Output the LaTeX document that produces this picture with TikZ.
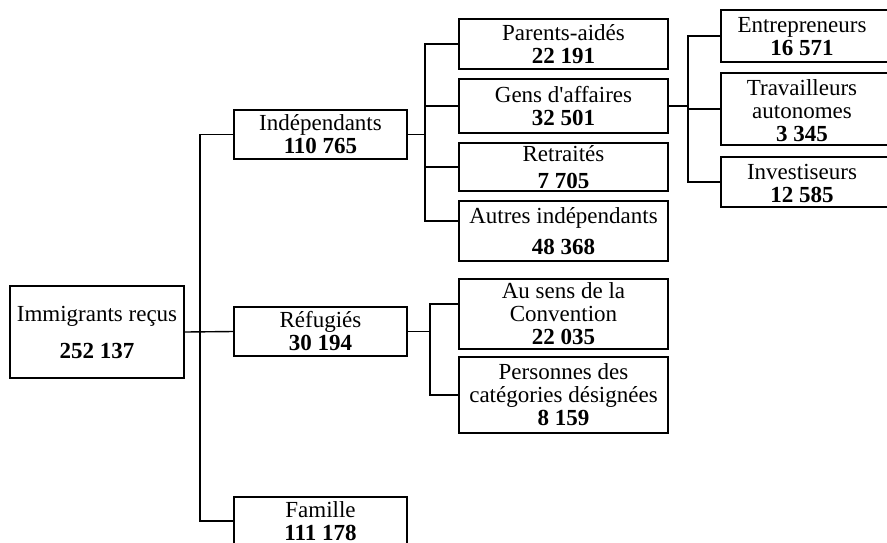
\documentclass[tikz,border=0pt]{standalone}
\usepackage{fontspec}
\setmainfont{Liberation Serif}
\usetikzlibrary{positioning}

\newcommand{\boxfont}{\fontsize{11.5}{11.5}\selectfont}

\tikzset{
  box/.style={draw, line width=1pt, align=center, inner sep=0pt, font=\boxfont},
  mid/.style={box, minimum width=104.5pt},
  side/.style={box, anchor=west, minimum width=95pt},
  txt/.style={align=center, inner sep=0pt, font=\boxfont},
  link/.style={line width=0.7pt},
}

\begin{document}
\begin{tikzpicture}[x=0.5pt,y=-0.5pt]
	\useasboundingbox (0,0) rectangle (887,542);
	\clip (0,0) rectangle (887,542);
	% first level
	\node[box, minimum width=87pt, minimum height=46pt] (imm) at (97,332) {Immigrants reçus\\[7pt]\textbf{252 137}};
	\node[box, minimum width=86.5pt, minimum height=24.5pt] (indep) at (320.5,134.5) {Indépendants\\\textbf{110 765}};
	\node[box, minimum width=86.5pt, minimum height=24.5pt] (refug) at (320.5,331.5) {Réfugiés\\\textbf{30 194}};
	\node[box, minimum width=86.5pt, minimum height=24.5pt] (famille) at (320.5,521) {Famille\\\textbf{111 178}};
	% second level
	\node[mid, minimum height=25pt] (parents) at (563.5,44) {Parents-aidés\\\textbf{22 191}};
	\node[mid, minimum height=27pt] (gens) at (563.5,106) {Gens d\textquotesingle affaires\\\textbf{32 501}};
	\node[mid, minimum height=24pt] (retraites) at (563.5,167) {Retraités\\[2pt]\textbf{7 705}};
	\node[mid, minimum height=30pt] (autres) at (563.5,231) {Autres indépendants\\[4pt]\textbf{48 368}};
	\node[mid, minimum height=35pt] (aus) at (563.5,314) {Au sens de la\\Convention\\\textbf{22 035}};
	\node[mid, minimum height=38pt] (pers) at (563.5,395) {Personnes des\\catégories désignées\\\textbf{8 159}};
	% third level
	\node[side, minimum height=26pt] (entr) at (720,36) {};
	\node[txt] (entrtxt) at (802,37) {Entrepreneurs\\\textbf{16 571}};
	\node[side, minimum height=36pt] (trav) at (720,109) {};
	\node[txt] (travtxt) at (802,111) {Travailleurs\\autonomes\\\textbf{3 345}};
	\node[side, minimum height=25pt] (inv) at (720,182) {};
	\node[txt] (invtxt) at (802,183) {Investiseurs\\\textbf{12 585}};

	\coordinate (t1) at (200,0);
	\coordinate (t2) at (425,0);
	\coordinate (t3) at (688,0);
	\coordinate (t4) at (430,0);
	\coordinate (autresin) at ([yshift=5pt]autres.west);
	\coordinate (ausin) at ([yshift=5pt]aus.west);

	\draw[link] (imm.east) -- (refug.west);
	\draw[link] (indep.west) -- (indep.west -| t1) |- (famille.west);

	\draw[link] (indep.east) -- (indep.east -| t2);
	\draw[link] (parents.west) -| (t2 |- autresin) -- (autresin);
	\foreach \n in {gens, retraites}
		\draw[link] (\n.west) -- (\n.west -| t2);

	\draw[link] (refug.east) -- (refug.east -| t4);
	\draw[link] (ausin) -| (t4 |- pers.west) -- (pers.west);

	\draw[link] (gens.east) -- (gens.east -| t3);
	\draw[link] (entr.west) -| (t3 |- inv.west) -- (inv.west);
	\draw[link] (trav.west) -- (trav.west -| t3);
\end{tikzpicture}
\end{document}
